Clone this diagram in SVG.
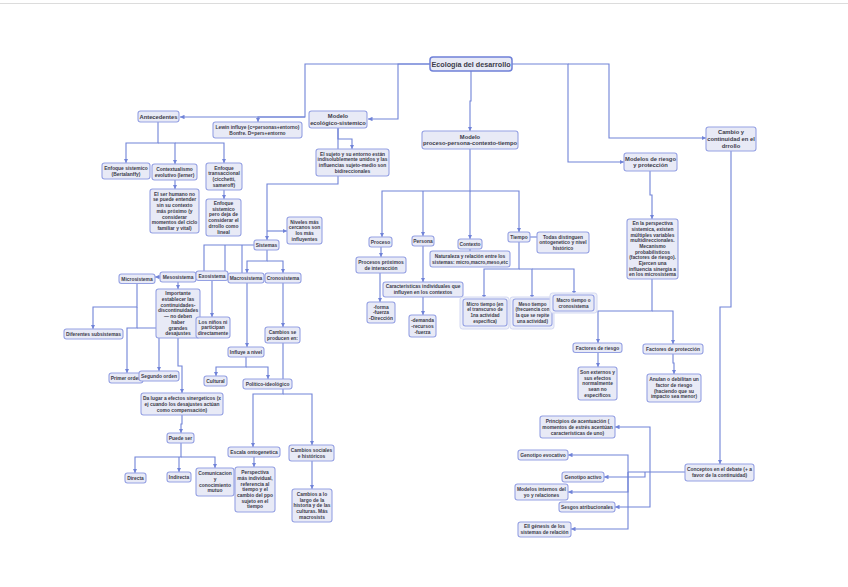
<svg xmlns="http://www.w3.org/2000/svg" width="848" height="587" viewBox="0 0 848 587">
<style>
.bg{fill:#ffffff}
.n rect{fill:#e8eaf6;stroke:#95a1e3;stroke-width:1.1}
.n text{font-family:"Liberation Sans",Arial,sans-serif;font-weight:bold;fill:#3b3b4a;text-anchor:middle;font-size:4.9px}
.m text{font-size:5.8px}
.t text{font-size:4.6px}
.r rect{stroke:#6f80d8;stroke-width:1.5}
.r text{font-size:7.2px}
.n rect.o{fill:#eef0f9;stroke:#d4d9f2;stroke-width:1}
.c path{fill:none;stroke:#7083d8;stroke-width:1.1;marker-end:url(#a)}
.c path.p{marker-end:none}
</style>
<defs>
<marker id="a" viewBox="0 0 6 6" refX="6" refY="3" markerWidth="4.5" markerHeight="4.5" markerUnits="userSpaceOnUse" orient="auto">
<path d="M0,0 L6,3 L0,6 z" fill="#7083d8"/>
</marker>
</defs>
<rect class="bg" x="0" y="0" width="848" height="587"/>
<line x1="0" y1="3.5" x2="848" y2="3.5" stroke="#dcdcdc" stroke-width="1"/>
<g id="connectors" class="c">
<path d="M430,64 H305 V117 H180"/>
<path d="M305,117 H258 V122"/>
<path d="M430,64 H398 V119 H368"/>
<path d="M471,71 V101 H470 V131"/>
<path d="M512,64 H568 V162 H624"/>
<path d="M568,64 H609 V138 H706"/>
<path d="M158,122 V143 H126 V163"/>
<path d="M158,143 H175 V164"/>
<path d="M175,143 H224 V163"/>
<path d="M175,180 V189"/>
<path d="M224,190 V199"/>
<path d="M338,128 V139 H352 V149"/>
<path d="M338,128 V184 H267 V240"/>
<path d="M267,231 H287"/>
<path d="M267,250 V261 H247 V273"/>
<path d="M267,261 H283 V273"/>
<path class="p" d="M254,245 H204 V271"/>
<path class="p" d="M225,245 V271"/>
<path class="p" d="M242,245 V273"/>
<path d="M160,277 H155"/>
<path d="M137,283 V307 H93 V329"/>
<path d="M137,307 V328 H127 V373"/>
<path d="M137,328 H159 V371"/>
<path d="M178,282 V289"/>
<path d="M212,280 V317"/>
<path d="M178,338 V366 H182 V393"/>
<path d="M182,415 V424 H181 V433"/>
<path d="M181,443 V457 H135 V473"/>
<path d="M179,457 V472"/>
<path d="M181,457 H215 V468"/>
<path d="M247,283 V347"/>
<path d="M246,357 V367 H216 V376"/>
<path d="M246,367 H268 V379"/>
<path d="M283,283 V327"/>
<path d="M283,343 V394 H253 V447"/>
<path d="M283,394 H312 V445"/>
<path d="M254,457 V467"/>
<path d="M312,461 V489"/>
<path d="M470,149 V191 H382 V237"/>
<path d="M423,191 V236"/>
<path d="M470,191 V239"/>
<path d="M470,191 H519 V232"/>
<path class="p" d="M530,237 H537"/>
<path class="p" d="M470,249 V251"/>
<path d="M381,247 V257"/>
<path d="M380,273 V302"/>
<path d="M423,246 V282"/>
<path d="M423,297 V315"/>
<path d="M519,242 V269 H484 V299"/>
<path d="M519,269 H532 V299"/>
<path d="M532,269 H574 V295"/>
<path d="M650,171 V195 H652 V219"/>
<path d="M652,279 V311 H598 V343"/>
<path d="M652,311 H673 V344"/>
<path d="M598,352 V367"/>
<path d="M673,354 V363 H674 V374"/>
<path d="M731,151 V307 H720 V464"/>
<path class="p" d="M685,472 H628"/>
<path d="M650,472 V427 H615"/>
<path d="M650,472 V507 H615"/>
<path d="M645,472 V477 H604"/>
<path d="M628,472 V455 H568"/>
<path d="M628,472 V492 H568"/>
<path d="M628,472 V529 H571"/>
</g>
<g id="root" class="n r"><rect x="430" y="57" width="82" height="14" rx="3"/><text x="471" y="66.6">Ecología del desarrollo</text></g>
<g id="antecedentes" class="n m"><rect x="138" y="111" width="41" height="11" rx="2.5"/><text x="158.5" y="118.6">Antecedentes</text></g>
<g id="ecologico" class="n m"><rect x="309" y="111" width="58" height="17" rx="2.5"/><text x="338" y="118.2">Modelo</text><text x="338" y="124.8">ecológico-sistemico</text></g>
<g id="lewin" class="n"><rect x="213" y="122" width="89" height="16" rx="2.5"/><text x="257.5" y="128.9">Lewin influye (c=personas+entorno)</text><text x="257.5" y="134.6">Bonfre. D=pers+entorno</text></g>
<g id="enf-sist" class="n"><rect x="102" y="163" width="48" height="16" rx="2.5"/><text x="126" y="169.9">Enfoque sistemico</text><text x="126" y="175.6">(Bertalanffy)</text></g>
<g id="contextualismo" class="n"><rect x="152" y="164" width="45" height="16" rx="2.5"/><text x="174.5" y="170.9">Contextualismo</text><text x="174.5" y="176.6">evolutivo (lerner)</text></g>
<g id="transaccional" class="n"><rect x="206" y="163" width="36" height="27" rx="2.5"/><text x="224" y="169.7">Enfoque</text><text x="224" y="175.4">transaccional</text><text x="224" y="181.1">(cicchetti,</text><text x="224" y="186.8">sameroff)</text></g>
<g id="ser-humano" class="n"><rect x="150" y="189" width="49" height="44" rx="2.5"/><text x="174.5" y="195.7">El ser humano no</text><text x="174.5" y="201.4">se puede entender</text><text x="174.5" y="207.1">sin su contexto</text><text x="174.5" y="212.8">más próximo (y</text><text x="174.5" y="218.5">considerar</text><text x="174.5" y="224.2">momentos del ciclo</text><text x="174.5" y="229.9">familiar y vital)</text></g>
<g id="enf-pero" class="n"><rect x="206" y="199" width="35" height="37" rx="2.5"/><text x="223.5" y="205">Enfoque</text><text x="223.5" y="210.7">sistemico</text><text x="223.5" y="216.4">pero deja de</text><text x="223.5" y="222.1">considerar el</text><text x="223.5" y="227.8">drrollo como</text><text x="223.5" y="233.5">lineal</text></g>
<g id="sujeto" class="n"><rect x="316" y="149" width="73" height="27" rx="2.5"/><text x="352.5" y="155.7">El sujeto y su entorno están</text><text x="352.5" y="161.4">indisolublemente unidos y las</text><text x="352.5" y="167.1">influencias sujeto-medio son</text><text x="352.5" y="172.8">bidireccionales</text></g>
<g id="niveles" class="n"><rect x="287" y="217" width="35" height="27" rx="2.5"/><text x="304.5" y="223.7">Niveles más</text><text x="304.5" y="229.4">cercanos son</text><text x="304.5" y="235.1">los más</text><text x="304.5" y="240.8">influyentes</text></g>
<g id="sistemas" class="n"><rect x="254" y="240" width="25" height="10" rx="2.5"/><text x="266.5" y="246.8">Sistemas</text></g>
<g id="microsistema" class="n"><rect x="119" y="274" width="36" height="9.5" rx="2.5"/><text x="137" y="280.5">Microsistema</text></g>
<g id="mesosistema" class="n"><rect x="160" y="272" width="36" height="10" rx="2.5"/><text x="178" y="278.8">Mesosistema</text></g>
<g id="exosistema" class="n"><rect x="196" y="271" width="32" height="9.5" rx="2.5"/><text x="212" y="277.5">Exosistema</text></g>
<g id="macrosistema" class="n"><rect x="228" y="273" width="36" height="10" rx="2.5"/><text x="246" y="279.8">Macrosistema</text></g>
<g id="cronosistema" class="n"><rect x="265" y="273" width="36" height="10" rx="2.5"/><text x="283" y="279.8">Cronosistema</text></g>
<g id="importante" class="n"><rect x="156" y="289" width="44" height="49" rx="2.5"/><text x="178" y="295.3">Importante</text><text x="178" y="301">establecer las</text><text x="178" y="306.7">continuidades-</text><text x="178" y="312.4">discontinuidades</text><text x="178" y="318.1">— no deben</text><text x="178" y="323.8">haber</text><text x="178" y="329.5">grandes</text><text x="178" y="335.2">desajustes</text></g>
<g id="ninos" class="n"><rect x="196" y="317" width="34" height="21" rx="2.5"/><text x="213" y="323.6">Los niños ni</text><text x="213" y="329.3">participan</text><text x="213" y="335">directamente</text></g>
<g id="subsistemas" class="n"><rect x="64" y="329" width="59" height="10" rx="2.5"/><text x="93.5" y="335.8">Diferentes subsistemas</text></g>
<g id="primer" class="n"><rect x="109" y="373" width="34" height="10" rx="2.5"/><text x="126" y="379.8">Primer orden</text></g>
<g id="segundo" class="n"><rect x="139" y="371" width="40" height="10" rx="2.5"/><text x="159" y="377.8">Segundo orden</text></g>
<g id="da-lugar" class="n"><rect x="141" y="393" width="82" height="22" rx="2.5"/><text x="182" y="400.1">Da lugar a efectos sinergeticos (x</text><text x="182" y="405.8">ej cuando los desajustes actúan</text><text x="182" y="411.5">como compensación)</text></g>
<g id="puede-ser" class="n"><rect x="167" y="433" width="27" height="10" rx="2.5"/><text x="180.5" y="439.8">Puede ser</text></g>
<g id="directa" class="n"><rect x="125" y="473" width="21" height="10" rx="2.5"/><text x="135.5" y="479.8">Directa</text></g>
<g id="indirecta" class="n"><rect x="167" y="472" width="24" height="10" rx="2.5"/><text x="179" y="478.8">Indirecta</text></g>
<g id="comunicacion" class="n"><rect x="196" y="468" width="38" height="28" rx="2.5"/><text x="215" y="475.2">Comunicacion</text><text x="215" y="480.9">y</text><text x="215" y="486.6">conocimiento</text><text x="215" y="492.3">mutuo</text></g>
<g id="influye" class="n"><rect x="228" y="347" width="36" height="10" rx="2.5"/><text x="246" y="353.8">Influye a nivel</text></g>
<g id="cultural" class="n"><rect x="204" y="376" width="23" height="10" rx="2.5"/><text x="215.5" y="382.8">Cultural</text></g>
<g id="politico" class="n"><rect x="243" y="379" width="49" height="10" rx="2.5"/><text x="267.5" y="385.8">Político-ideológico</text></g>
<g id="cambios-se" class="n"><rect x="265" y="327" width="35" height="16" rx="2.5"/><text x="282.5" y="333.9">Cambios se</text><text x="282.5" y="339.6">producen en:</text></g>
<g id="escala" class="n"><rect x="228" y="447" width="52" height="10" rx="2.5"/><text x="254" y="453.8">Escala ontogenetica</text></g>
<g id="perspectiva-ind" class="n"><rect x="235" y="467" width="40" height="45" rx="2.5"/><text x="255" y="474.2">Perspectiva</text><text x="255" y="479.9">más individual,</text><text x="255" y="485.6">referencia al</text><text x="255" y="491.3">tiempo y el</text><text x="255" y="497">cambio del ppo</text><text x="255" y="502.7">sujeto en el</text><text x="255" y="508.4">tiempo</text></g>
<g id="cambios-sociales" class="n"><rect x="289" y="445" width="45" height="16" rx="2.5"/><text x="311.5" y="451.9">Cambios sociales</text><text x="311.5" y="457.6">e históricos</text></g>
<g id="cambios-largo" class="n"><rect x="292" y="489" width="40" height="33" rx="2.5"/><text x="312" y="495.9">Cambios a lo</text><text x="312" y="501.6">largo de la</text><text x="312" y="507.3">historia y de las</text><text x="312" y="513">culturas. Más</text><text x="312" y="518.7">macrosists</text></g>
<g id="ppct" class="n m"><rect x="422" y="131" width="96" height="18" rx="2.5"/><text x="470" y="138.7">Modelo</text><text x="470" y="145.3">proceso-persona-contexto-tiempo</text></g>
<g id="proceso" class="n"><rect x="369" y="237" width="23" height="10" rx="2.5"/><text x="380.5" y="243.8">Proceso</text></g>
<g id="persona" class="n"><rect x="412" y="236" width="22" height="10" rx="2.5"/><text x="423" y="242.8">Persona</text></g>
<g id="contexto" class="n"><rect x="458" y="239" width="24" height="10" rx="2.5"/><text x="470" y="245.8">Contexto</text></g>
<g id="tiempo" class="n"><rect x="508" y="232" width="22" height="10" rx="2.5"/><text x="519" y="238.8">Tiempo</text></g>
<g id="todas" class="n"><rect x="537" y="232" width="52" height="21" rx="2.5"/><text x="563" y="238.6">Todas distinguen</text><text x="563" y="244.3">ontogenetico y nivel</text><text x="563" y="250">histórico</text></g>
<g id="naturaleza" class="n"><rect x="430" y="251" width="80" height="16" rx="2.5"/><text x="470" y="257.9">Naturaleza y relación entre los</text><text x="470" y="263.6">sistemas: micro,macro,meso,etc</text></g>
<g id="procesos-proximos" class="n"><rect x="356" y="257" width="50" height="16" rx="2.5"/><text x="381" y="263.9">Procesos próximos</text><text x="381" y="269.6">de interacción</text></g>
<g id="forma" class="n"><rect x="367" y="302" width="28" height="21" rx="2.5"/><text x="381" y="308.6">-forma</text><text x="381" y="314.3">-fuerza</text><text x="381" y="320">-Dirección</text></g>
<g id="caracteristicas" class="n"><rect x="383" y="282" width="80" height="15" rx="2.5"/><text x="423" y="288.4">Características individuales que</text><text x="423" y="294.1">influyen en los contextos</text></g>
<g id="demanda" class="n"><rect x="409" y="315" width="27" height="22" rx="2.5"/><text x="422.5" y="322.1">-demanda</text><text x="422.5" y="327.8">-recursos</text><text x="422.5" y="333.5">-fuerza</text></g>
<g id="micro-tiempo" class="n t"><rect class="o" x="460" y="297" width="49" height="32" rx="2.5"/><rect x="463" y="299" width="44" height="27" rx="2.5"/><text x="485" y="305.7">Micro tiempo (en</text><text x="485" y="311.4">el transcurso de</text><text x="485" y="317.1">1na actividad</text><text x="485" y="322.8">especifica)</text></g>
<g id="meso-tiempo" class="n t"><rect class="o" x="510" y="297" width="44" height="32" rx="2.5"/><rect x="513" y="299" width="39" height="27" rx="2.5"/><text x="532.5" y="305.7">Meso tiempo</text><text x="532.5" y="311.4">(frecuencia con</text><text x="532.5" y="317.1">la que se repite</text><text x="532.5" y="322.8">una actividad)</text></g>
<g id="macro-tiempo" class="n t"><rect class="o" x="550" y="293" width="47" height="20" rx="2.5"/><rect x="553" y="295" width="41" height="16" rx="2.5"/><text x="573.5" y="301.9">Macro tiempo o</text><text x="573.5" y="307.6">cronosistema</text></g>
<g id="riesgo" class="n m"><rect x="624" y="153" width="53" height="18" rx="2.5"/><text x="650.5" y="160.7">Modelos de riesgo</text><text x="650.5" y="167.3">y protección</text></g>
<g id="perspectiva-sist" class="n"><rect x="627" y="219" width="51" height="60" rx="2.5"/><text x="652.5" y="225.1">En la perspectiva</text><text x="652.5" y="230.8">sistemica, existen</text><text x="652.5" y="236.5">múltiples variables</text><text x="652.5" y="242.2">multidireccionales.</text><text x="652.5" y="247.9">Mecanismo</text><text x="652.5" y="253.6">probabilisticos</text><text x="652.5" y="259.3">(factores de riesgo).</text><text x="652.5" y="265">Ejercen una</text><text x="652.5" y="270.7">influencia sinergia a</text><text x="652.5" y="276.4">en los microsistema</text></g>
<g id="factores-riesgo" class="n"><rect x="573" y="343" width="49" height="9.5" rx="2.5"/><text x="597.5" y="349.5">Factores de riesgo</text></g>
<g id="factores-proteccion" class="n"><rect x="643" y="344" width="60" height="10" rx="2.5"/><text x="673" y="350.8">Factores de protección</text></g>
<g id="externos" class="n"><rect x="578" y="367" width="39" height="33" rx="2.5"/><text x="597.5" y="373.9">Son externos y</text><text x="597.5" y="379.6">sus efectos</text><text x="597.5" y="385.3">normalmente</text><text x="597.5" y="391">sean no</text><text x="597.5" y="396.7">especificos</text></g>
<g id="anulan" class="n"><rect x="647" y="374" width="54" height="28" rx="2.5"/><text x="674" y="381.2">Anulan o debilitan un</text><text x="674" y="386.9">factor de riesgo</text><text x="674" y="392.6">(haciendo que su</text><text x="674" y="398.3">impacto sea menor)</text></g>
<g id="cambio" class="n m"><rect x="706" y="127" width="50" height="24" rx="2.5"/><text x="731" y="134.4">Cambio y</text><text x="731" y="141">continuidad en el</text><text x="731" y="147.6">drrollo</text></g>
<g id="conceptos" class="n"><rect x="685" y="464" width="69" height="17" rx="2.5"/><text x="719.5" y="471.4">Conceptos en el debate (+ a</text><text x="719.5" y="477.1">favor de la continuidad)</text></g>
<g id="principios" class="n"><rect x="540" y="416" width="75" height="22" rx="2.5"/><text x="577.5" y="423.1">Principios de acentuación (</text><text x="577.5" y="428.8">momentos de estrés acentúan</text><text x="577.5" y="434.5">características de uno)</text></g>
<g id="evocativo" class="n"><rect x="518" y="450" width="50" height="10" rx="2.5"/><text x="543" y="456.8">Genotipo evocativo</text></g>
<g id="activo" class="n"><rect x="562" y="472" width="42" height="10" rx="2.5"/><text x="583" y="478.8">Genotipo activo</text></g>
<g id="modelos-internos" class="n"><rect x="515" y="484" width="53" height="16" rx="2.5"/><text x="541.5" y="490.9">Modelos internos del</text><text x="541.5" y="496.6">yo y relaciones</text></g>
<g id="sesgos" class="n"><rect x="559" y="502" width="56" height="10" rx="2.5"/><text x="587" y="508.8">Sesgos atribucionales</text></g>
<g id="genesis" class="n"><rect x="518" y="522" width="53" height="15" rx="2.5"/><text x="544.5" y="528.4">Ell génesis de los</text><text x="544.5" y="534.1">sistemas de relación</text></g>
</svg>
